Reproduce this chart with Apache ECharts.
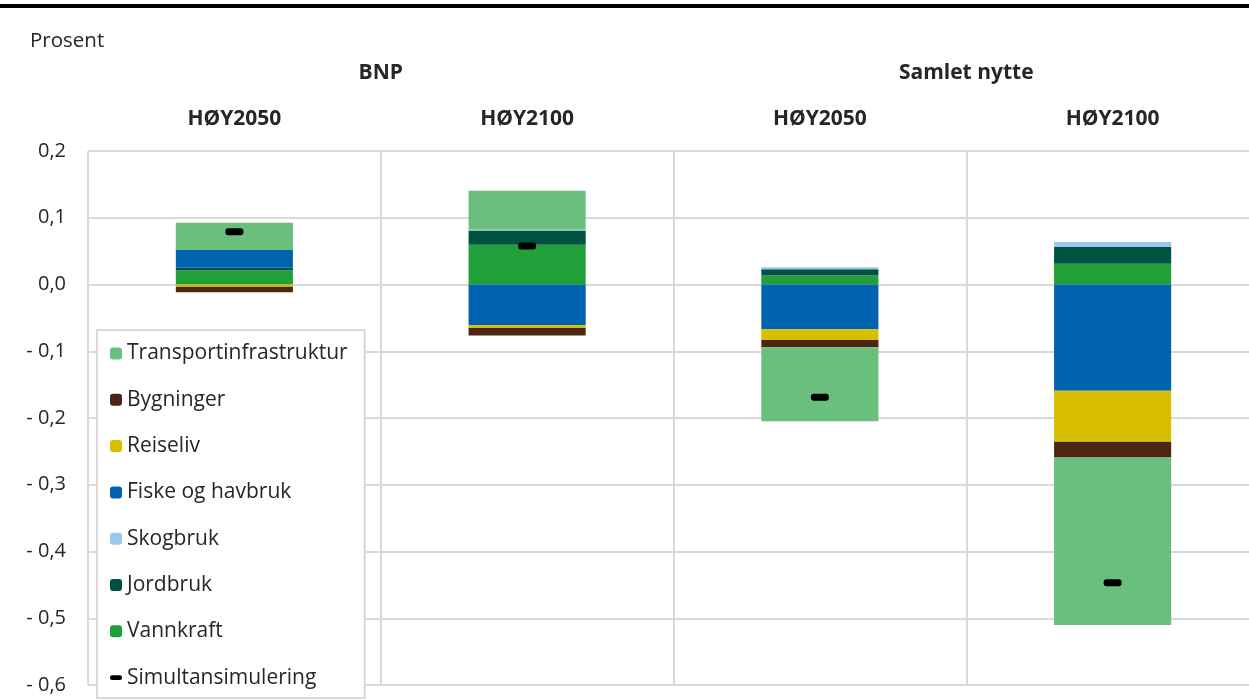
<!DOCTYPE html>
<html>
<head>
<meta charset="utf-8">
<script src="https://cdn.jsdelivr.net/npm/echarts@6/dist/echarts.min.js"></script>
<style>
  html, body { margin: 0; padding: 0; background: #fff; }
  #chart { width: 1249px; height: 700px; }
</style>
</head>
<body>
<div id="chart"></div>
<script>
// kategorier
const categories = ['HØY2050', 'HØY2100', 'HØY2050', 'HØY2100'];
const groups = ['BNP', 'Samlet nytte'];
const yTicks = { min: -0.6, max: 0.2, interval: 0.1 };

// bidrag per næring (prosent)
const vannkraft = [0.0215, 0.0595, 0.0135, 0.031];
const jordbruk = [0.0036, 0.0215, 0.0095, 0.025];
const skogbruk = [0, 0.0015, 0.003, 0.0075];
const fiske = [0.0264, -0.061, -0.067, -0.159];
const reiseliv = [-0.0035, -0.004, -0.016, -0.0765];
const bygninger = [-0.008, -0.0115, -0.011, -0.0235];
const transport = [0.041, 0.058, -0.111, -0.251];
const simultan = [0.079, 0.0575, -0.169, -0.447];

const colors = {
  'Transportinfrastruktur': '#6abf7c',
  'Bygninger': '#4a2613',
  'Reiseliv': '#d7bf00',
  'Fiske og havbruk': '#0063b0',
  'Skogbruk': '#98c9ec',
  'Jordbruk': '#005240',
  'Vannkraft': '#21a039'
};

// stablet fra null og utover
const stackOrder = [
  ['Vannkraft', vannkraft],
  ['Jordbruk', jordbruk],
  ['Skogbruk', skogbruk],
  ['Fiske og havbruk', fiske],
  ['Reiseliv', reiseliv],
  ['Bygninger', bygninger],
  ['Transportinfrastruktur', transport]
];

const pill = 'path://M3,0 H15 A3,3 0 0 1 18,3 V4 A3,3 0 0 1 15,7 H3 A3,3 0 0 1 0,4 V3 A3,3 0 0 1 3,0 Z';
const font = '"Open Sans", "Noto Sans", sans-serif';
const textColor = '#262626';
const gridColor = '#d9d9d9';

const series = stackOrder.map(([name, data]) => ({
  name: name,
  type: 'bar',
  stack: 'total',
  barWidth: '40%',
  itemStyle: { color: colors[name] },
  data: data
}));

series.push({
  name: 'Simultansimulering',
  type: 'scatter',
  symbol: pill,
  symbolSize: [18, 7],
  z: 5,
  itemStyle: { color: '#000', opacity: 1 },
  data: simultan
});

const chart = echarts.init(document.getElementById('chart'));
chart.setOption({
  animation: false,
  textStyle: { fontFamily: font },
  graphic: [
    { type: 'rect', shape: { x: 0, y: 4, width: 1249, height: 4 }, style: { fill: '#000' } },
    { type: 'text', left: 30, top: 31, style: { text: 'Prosent', fontSize: 20.5, fill: textColor, fontFamily: font } }
  ],
  grid: { left: 88, width: 1171, top: 151, bottom: 15, outerBoundsMode: 'none' },
  legend: {
    orient: 'vertical',
    left: 97,
    top: 330,
    padding: [13, 17, 10, 13],
    itemGap: 25.3,
    itemWidth: 12,
    itemHeight: 12,
    backgroundColor: '#fff',
    borderColor: gridColor,
    borderWidth: 2,
    z: 10,
    textStyle: { fontSize: 21, color: textColor, fontFamily: font },
    data: [
      'Transportinfrastruktur', 'Bygninger', 'Reiseliv', 'Fiske og havbruk',
      'Skogbruk', 'Jordbruk', 'Vannkraft',
      { name: 'Simultansimulering', icon: pill }
    ]
  },
  xAxis: [
    {
      type: 'category',
      position: 'top',
      data: categories,
      axisLine: { show: false },
      axisTick: { show: false },
      axisLabel: { margin: 21, fontSize: 21, fontWeight: 'bold', color: textColor },
      splitLine: { show: true, interval: 0, lineStyle: { color: gridColor, width: 2 } }
    },
    {
      type: 'category',
      position: 'top',
      offset: 46,
      data: groups,
      axisLine: { show: false },
      axisTick: { show: false },
      axisLabel: { margin: 21, fontSize: 21, fontWeight: 'bold', color: textColor },
      splitLine: { show: false }
    }
  ],
  yAxis: {
    type: 'value',
    min: yTicks.min,
    max: yTicks.max,
    interval: yTicks.interval,
    axisLine: { show: false },
    axisTick: { show: false },
    axisLabel: {
      margin: 22,
      fontSize: 20,
      color: textColor,
      formatter: v => (v < -1e-9 ? '- ' : '') + Math.abs(v).toFixed(1).replace('.', ',')
    },
    splitLine: { lineStyle: { color: gridColor, width: 2 } }
  },
  series: series
});
</script>
</body>
</html>
